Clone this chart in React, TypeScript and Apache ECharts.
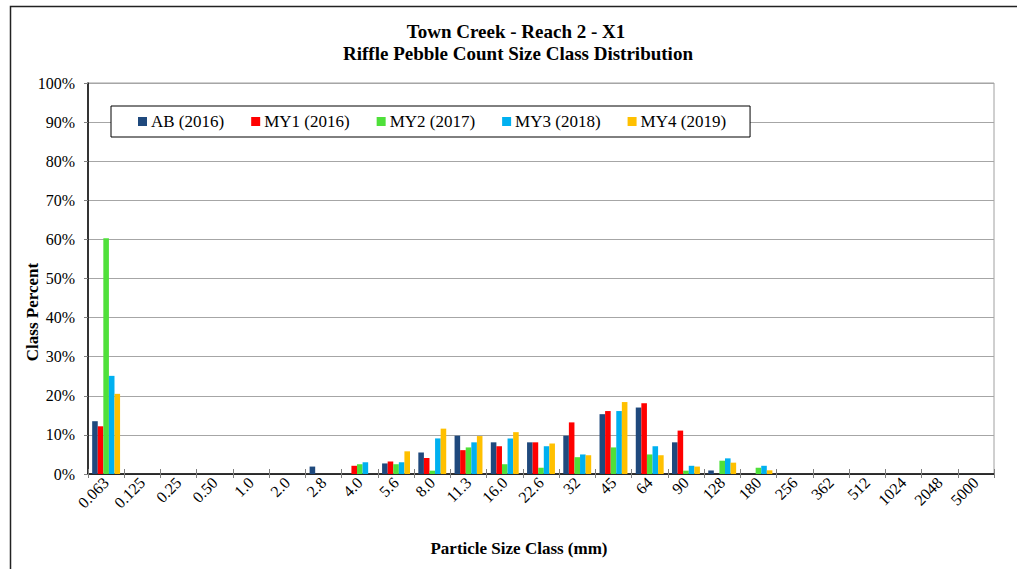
import React, { useEffect, useRef } from "react";
import * as echarts from "echarts";

const categories = ["0.063","0.125","0.25","0.50","1.0","2.0","2.8","4.0","5.6","8.0","11.3","16.0","22.6","32","45","64","90","128","180","256","362","512","1024","2048","5000"];
const seriesNames = ["AB (2016)", "MY1 (2016)", "MY2 (2017)", "MY3 (2018)", "MY4 (2019)"];
const ab2016 =  [13.5,0,0,0,0,0,1.9,0,2.7,5.5,9.8,8.1,8.1,9.8,15.3,17.0,8.1,0.9,0,0,0,0,0,0,0];
const my1_2016 = [12.2,0,0,0,0,0,0,2.1,3.2,4.1,6.1,7.1,8.1,13.2,16.1,18.1,11.1,0,0,0,0,0,0,0,0];
const my2_2017 = [60.3,0,0,0,0,0,0,2.5,2.5,0.85,6.8,2.5,1.6,4.3,6.8,5.0,0.85,3.4,1.6,0,0,0,0,0,0];
const my3_2018 = [25.1,0,0,0,0,0,0,3.0,3.0,9.1,8.1,9.1,7.1,5.0,16.1,7.1,2.1,4.0,2.1,0,0,0,0,0,0];
const my4_2019 = [20.5,0,0,0,0,0,0,0,5.8,11.6,9.7,10.7,7.8,4.8,18.4,4.8,1.9,2.9,0.94,0,0,0,0,0,0];
const seriesData = [ab2016, my1_2016, my2_2017, my3_2018, my4_2019];
const colors = ["#1F497D", "#FF0000", "#4FE03A", "#00B0F0", "#FFC000"];
const yTicks = { min: 0, max: 100, interval: 10 };

const FONT = "'Liberation Serif', 'Times New Roman', serif";

export default function App() {
  const ref = useRef<HTMLDivElement>(null);
  useEffect(() => {
    if (!ref.current) return;
    const chart = echarts.init(ref.current, null, { renderer: "svg" });
    chart.setOption({
      animation: false,
      backgroundColor: "#ffffff",
      textStyle: { fontFamily: FONT, color: "#000" },
      graphic: [
        { type: "rect", shape: { x: 10.5, y: 6.5, width: 1200, height: 800 }, style: { fill: "none", stroke: "#222", lineWidth: 1.5 }, z: 100 },
        { type: "text", x: 516, y: 31, style: { text: "Town Creek - Reach 2 - X1", font: `bold 19px ${FONT}`, fill: "#000", textAlign: "center", textVerticalAlign: "middle" } },
        { type: "text", x: 518, y: 53, style: { text: "Riffle Pebble Count Size Class Distribution", font: `bold 19px ${FONT}`, fill: "#000", textAlign: "center", textVerticalAlign: "middle" } },
        { type: "text", x: 519, y: 548, style: { text: "Particle Size Class (mm)", font: `bold 17px ${FONT}`, fill: "#000", textAlign: "center", textVerticalAlign: "middle" } },
        { type: "text", x: 32, y: 312, rotation: Math.PI / 2, style: { text: "Class Percent", font: `bold 17px ${FONT}`, fill: "#000", textAlign: "center", textVerticalAlign: "middle" } },
      ],
      legend: {
        data: seriesNames,
        left: 111,
        top: 106,
        orient: "horizontal",
        padding: [7, 24, 7, 27],
        itemGap: 27,
        itemWidth: 9,
        itemHeight: 9,
        icon: "rect",
        borderColor: "#000",
        borderWidth: 1,
        backgroundColor: "#fff",
        textStyle: { fontFamily: FONT, fontSize: 17, color: "#000", padding: [0, 0, 0, -1] },
      },
      grid: { left: 88, right: 23, top: 83, bottom: 95, show: true, borderColor: "#a0a0a0", borderWidth: 1, containLabel: false },
      xAxis: [
        {
          type: "category",
          data: categories,
          position: "bottom",
          axisLine: { show: true, lineStyle: { color: "#000", width: 1.5 } },
          axisTick: { show: true, alignWithLabel: false, length: 4, lineStyle: { color: "#808080" } },
          axisLabel: { interval: 0, rotate: 45, fontSize: 16, fontFamily: FONT, color: "#000", margin: 6 },
          splitLine: { show: false },
        },
        {
          type: "category",
          data: categories,
          position: "bottom",
          offset: 0,
          axisLine: { show: false },
          axisTick: { show: true, inside: true, length: 5, lineStyle: { color: "#808080" } },
          axisLabel: { show: false },
          splitLine: { show: false },
        },
      ],
      yAxis: {
        type: "value",
        min: yTicks.min,
        max: yTicks.max,
        interval: yTicks.interval,
        axisLine: { show: true, lineStyle: { color: "#000", width: 1.5 } },
        axisTick: { show: true, length: 4, lineStyle: { color: "#808080" } },
        axisLabel: { formatter: "{value}%", fontSize: 16, fontFamily: FONT, color: "#000", margin: 13 },
        splitLine: { show: true, lineStyle: { color: "#a6a6a6", width: 1 } },
      },
      series: seriesNames.map((name, i) => ({
        name,
        type: "bar",
        data: seriesData[i],
        itemStyle: { color: colors[i] },
        barGap: "0%",
        barCategoryGap: "23%",
      })),
    });
    return () => chart.dispose();
  }, []);
  return <div ref={ref} style={{ position: "fixed", left: 0, top: 0, width: 1017, height: 569 }} />;
}
